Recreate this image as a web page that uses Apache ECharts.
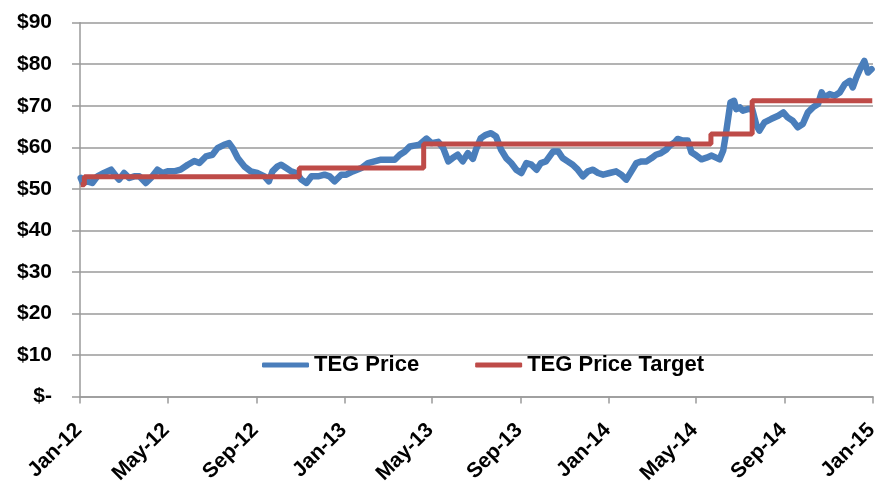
<!DOCTYPE html>
<html>
<head>
<meta charset="utf-8">
<script src="https://cdn.jsdelivr.net/npm/echarts@6/dist/echarts.min.js"></script>
<style>
	html, body { margin: 0; padding: 0; background: #fff; }
	#chart { width: 878px; height: 485px; }
</style>
</head>
<body>
<div id="chart"></div>
<script>
// TEG Price (date, $)
var priceDates = [
	'2012-01-02','2012-01-05','2012-01-11','2012-01-18','2012-01-25','2012-02-03','2012-02-13','2012-02-20','2012-02-24',
	'2012-03-02','2012-03-09','2012-03-16','2012-03-23','2012-04-01','2012-04-08','2012-04-17','2012-04-24','2012-05-01',
	'2012-05-10','2012-05-19','2012-05-29','2012-06-07','2012-06-14','2012-06-23','2012-07-02','2012-07-09','2012-07-18',
	'2012-07-25','2012-07-30','2012-08-06','2012-08-15','2012-08-24','2012-09-02','2012-09-12','2012-09-18','2012-09-23',
	'2012-09-30','2012-10-05','2012-10-12','2012-10-19','2012-10-26','2012-11-02','2012-11-09','2012-11-16','2012-11-25',
	'2012-12-04','2012-12-11','2012-12-18','2012-12-27','2013-01-03','2013-01-12','2013-01-24','2013-02-02','2013-02-11',
	'2013-02-20','2013-03-02','2013-03-11','2013-03-18','2013-03-25','2013-04-01','2013-04-07','2013-04-14','2013-04-24',
	'2013-05-01','2013-05-10','2013-05-17','2013-05-24','2013-05-30','2013-06-06','2013-06-13','2013-06-20','2013-06-27',
	'2013-07-02','2013-07-08','2013-07-15','2013-07-22','2013-07-29','2013-08-05','2013-08-12','2013-08-19','2013-08-26',
	'2013-09-02','2013-09-09','2013-09-16','2013-09-23','2013-09-29','2013-10-06','2013-10-16','2013-10-23','2013-10-29',
	'2013-11-05','2013-11-12','2013-11-19','2013-11-26','2013-12-03','2013-12-10','2013-12-17','2013-12-24','2014-01-02',
	'2014-01-11','2014-01-18','2014-01-25','2014-02-01','2014-02-08','2014-02-15','2014-02-22','2014-03-01','2014-03-07',
	'2014-03-14','2014-03-21','2014-03-26','2014-04-02','2014-04-06','2014-04-13','2014-04-20','2014-04-25','2014-05-02',
	'2014-05-09','2014-05-16','2014-05-23','2014-05-29','2014-06-03','2014-06-08','2014-06-11','2014-06-15','2014-06-18',
	'2014-06-23','2014-06-26','2014-07-01','2014-07-05','2014-07-12','2014-07-18','2014-07-24','2014-07-28','2014-08-04',
	'2014-08-13','2014-08-23','2014-08-30','2014-09-05','2014-09-12','2014-09-19','2014-09-26','2014-10-03','2014-10-10',
	'2014-10-17','2014-10-22','2014-10-26','2014-11-02','2014-11-09','2014-11-16','2014-11-23','2014-11-30','2014-12-04',
	'2014-12-09','2014-12-14','2014-12-20','2014-12-25','2014-12-30'
];
var priceValues = [
	52.6,51.4,51.8,51.4,53.0,53.8,54.6,53.0,52.2,
	53.8,52.6,53.0,53.0,51.4,52.6,54.6,53.8,54.2,
	54.2,54.6,55.8,56.7,56.2,57.8,58.2,59.8,60.6,
	61.0,59.8,57.4,55.4,54.2,53.8,53.0,51.8,54.2,
	55.4,55.8,55.0,54.2,53.8,52.2,51.4,53.0,53.0,
	53.4,53.0,51.8,53.4,53.4,54.2,55.0,56.2,56.6,
	57.0,57.0,57.0,58.2,59.0,60.2,60.4,60.6,62.1,
	61.0,61.3,59.8,56.6,57.4,58.2,56.6,58.6,57.2,
	59.8,62.2,63.0,63.4,62.6,59.4,57.4,56.2,54.6,
	53.8,56.2,55.8,54.6,56.2,56.6,59.0,59.0,57.4,
	56.6,55.8,54.6,53.0,54.2,54.6,53.8,53.4,53.8,
	54.2,53.4,52.2,54.2,56.2,56.6,56.6,57.4,58.2,
	58.6,59.4,60.4,61.2,62.0,61.6,61.6,58.8,58.0,
	57.1,57.5,58.0,57.5,57.1,59.2,62.4,67.2,70.8,
	71.2,69.2,69.6,68.8,69.2,69.2,65.2,64.0,66.0,
	66.8,67.6,68.4,67.2,66.4,64.8,65.6,68.4,69.6,
	70.4,73.2,72.0,72.8,72.4,73.2,75.2,76.0,74.4,
	76.8,78.8,80.8,78.0,78.8
];
// TEG Price Target, a step line: each value holds from its date on
var targetDates = ['2012-01-02','2012-01-07','2012-10-30','2013-04-20','2014-05-22','2014-07-18','2014-12-31'];
var targetValues = [51.0, 52.9, 55.0, 60.8, 63.2, 71.2, 71.2];

var tickDates = ['2012-01-01','2012-05-01','2012-09-01','2013-01-01','2013-05-01','2013-09-01',
	'2014-01-01','2014-05-01','2014-09-01','2015-01-01'];
var tickLabels = ['Jan-12','May-12','Sep-12','Jan-13','May-13','Sep-13','Jan-14','May-14','Sep-14','Jan-15'];

function _map(arr, fn) {
	var out = [];
	for (var i = 0; i < arr.length; i++) out.push(fn(arr[i], i));
	return out;
}
function toTime(s) {
	var p = s.split('-');
	return Date.UTC(+p[0], +p[1] - 1, +p[2]);
}
var tickTimes = _map(tickDates, toTime);

var FONT = '"Liberation Sans", Arial, sans-serif';
var chart = echarts.init(document.getElementById('chart'), null, {renderer: 'canvas'});
chart.setOption({
	animation: false,
	backgroundColor: '#ffffff',
	grid: {left: 80, right: 5, top: 22.7, bottom: 88.6, containLabel: false, outerBoundsMode: 'none'},
	legend: {
		left: 257,
		top: 349,
		itemWidth: 47,
		itemHeight: 5,
		itemGap: 56,
		icon: 'roundRect',
		textStyle: {fontFamily: FONT, fontWeight: 'bold', fontSize: 22, color: '#000'},
		data: ['TEG Price', 'TEG Price Target']
	},
	xAxis: {
		// dates as ms on a plain value axis, ticks every 4 months
		type: 'value',
		min: tickTimes[0],
		max: tickTimes[tickTimes.length - 1],
		splitLine: {show: false},
		axisLine: {show: true, lineStyle: {color: '#9a9a9a', width: 1.5}},
		axisTick: {show: true, length: 7, inside: false, customValues: tickTimes, lineStyle: {color: '#9a9a9a', width: 1.5}},
		axisLabel: {
			customValues: tickTimes,
			rotate: 45,
			margin: 29,
			padding: [0, 2, 0, 0],
			fontFamily: FONT,
			fontWeight: 'bold',
			fontSize: 21,
			color: '#000',
			formatter: function (v) {
				var i = tickTimes.indexOf(v);
				return i >= 0 ? tickLabels[i] : '';
			}
		}
	},
	yAxis: {
		type: 'value',
		min: 0,
		max: 90,
		interval: 10,
		axisLine: {show: true, lineStyle: {color: '#9a9a9a', width: 1.5}},
		axisTick: {show: true, length: 8, lineStyle: {color: '#9a9a9a', width: 1.5}},
		splitLine: {show: true, lineStyle: {color: '#9a9a9a', width: 1.5}},
		axisLabel: {
			margin: 28,
			fontFamily: FONT,
			fontWeight: 'bold',
			fontSize: 21,
			color: '#000',
			formatter: function (v) {
				return v === 0 ? '$-' : '$' + v;
			}
		}
	},
	series: [
		{
			name: 'TEG Price',
			type: 'line',
			showSymbol: false,
			color: '#4a7ebb',
			lineStyle: {width: 6.5, color: '#4a7ebb', join: 'round', cap: 'round'},
			data: _map(priceDates, function (d, i) { return [toTime(d), priceValues[i]]; })
		},
		{
			name: 'TEG Price Target',
			type: 'line',
			step: 'end',
			showSymbol: false,
			color: '#be4b48',
			lineStyle: {width: 5, color: '#be4b48'},
			data: _map(targetDates, function (d, i) { return [toTime(d), targetValues[i]]; })
		}
	]
});
</script>
</body>
</html>
